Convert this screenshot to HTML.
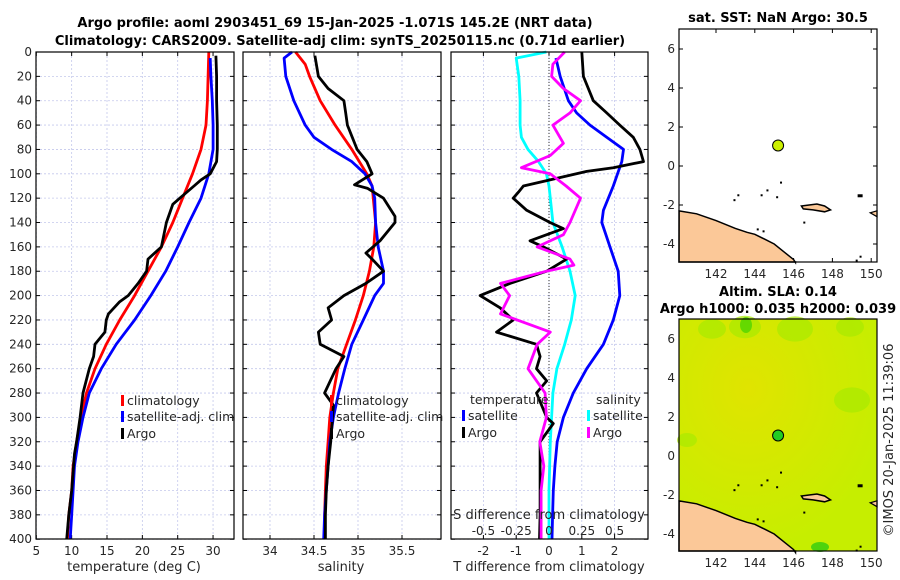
<!DOCTYPE html>
<html><head><meta charset="utf-8"><style>
body{margin:0;background:#fff;}
svg{display:block;font-family:"DejaVu Sans","Liberation Sans",sans-serif;}
.tk{font-size:12px;fill:#262626;}
.tt{font-size:13px;font-weight:bold;fill:#000;}
.lab{font-size:13px;fill:#262626;}
.lg{font-size:12.5px;fill:#262626;}
</style></head><body>
<svg id="fig" width="900" height="580" viewBox="0 0 900 580">
<text class="tt" x="335" y="27" text-anchor="middle">Argo profile: aoml 2903451_69 15-Jan-2025 -1.071S 145.2E (NRT data)</text>
<text class="tt" x="340" y="45" text-anchor="middle">Climatology: CARS2009. Satellite-adj clim: synTS_20250115.nc (0.71d earlier)</text>
<text class="tt" x="778" y="22" text-anchor="middle">sat. SST: NaN Argo: 30.5</text>
<text class="tt" x="778" y="296" text-anchor="middle">Altim. SLA: 0.14</text>
<text class="tt" x="778" y="313" text-anchor="middle">Argo h1000: 0.035 h2000: 0.039</text>
<text x="893" y="440" font-size="13" fill="#262626" text-anchor="middle" transform="rotate(-90 893 440)">©IMOS 20-Jan-2025 11:39:06</text>
</svg>
<script>
// ---- data ----
const depthTick=[0,20,40,60,80,100,120,140,160,180,200,220,240,260,280,300,320,340,360,380,400];
const tempTick=[5,10,15,20,25,30];
const salTick=[34,34.5,35,35.5];
const tdiffTick=[-2,-1,0,1,2];
const sdiffTick=[-0.5,-0.25,0,0.25,0.5];
const sdiffTickLabel=["-0.5","-0.25","0","0.25","0.5"];
const lonTick=[142,144,146,148,150];
const latTick=[-4,-2,0,2,4,6];

const climDepth=[0,20,40,60,80,100,120,140,160,180,200,220,240,260,280,300,320,340,360,380,400];
const climTemp=[29.4,29.3,29.2,29.0,28.3,27.1,25.7,24.3,22.7,20.8,18.9,16.8,14.9,13.3,12.1,11.3,10.7,10.2,10.0,9.6,9.4];
const satDepth=[5,20,40,60,80,100,120,140,160,180,200,220,240,260,280,300,320,340,360,380,400];
const satTemp=[29.6,29.7,29.9,30.0,30.0,29.4,28.3,26.6,25.0,23.3,21.2,18.9,16.3,14.2,12.5,11.6,10.9,10.4,10.2,10.0,9.8];
const argoTDepth=[3,20,40,60,80,90,100,105,110,120,125,140,160,170,180,190,200,205,215,220,230,240,250,260,280,300,320,330,360,380,400];
const argoTemp=[30.4,30.5,30.5,30.6,30.6,30.5,29.6,28.3,27.3,25.3,24.3,23.4,22.7,20.8,20.6,19.4,18.0,16.8,15.2,14.9,14.7,13.3,13.1,12.5,11.6,11.2,10.7,10.4,10.0,9.6,9.3];

const climSDepth=[0,10,20,40,60,80,100,110,140,160,180,200,220,240,260,280,300,320,340,360,380,400];
const climSal=[34.29,34.40,34.45,34.57,34.74,34.93,35.10,35.16,35.20,35.18,35.13,35.06,34.97,34.87,34.77,34.72,34.68,34.66,34.64,34.63,34.62,34.62];
const satSDepth=[0,5,20,40,60,70,80,90,100,110,120,140,160,180,190,200,220,240,260,280,300,320,340,360,380,400];
const satSal=[34.25,34.16,34.18,34.27,34.40,34.50,34.70,34.93,35.08,35.16,35.19,35.20,35.23,35.29,35.29,35.19,35.06,34.93,34.85,34.78,34.72,34.68,34.66,34.64,34.62,34.61];
const argoSDepth=[3,20,30,40,50,60,80,90,100,109,112,120,135,140,155,165,170,180,190,200,210,220,230,240,250,260,280,290,300,320,340,360,380,400];
const argoSal=[34.51,34.55,34.66,34.84,34.86,34.88,34.99,35.10,35.16,34.96,35.11,35.29,35.42,35.42,35.25,35.09,35.16,35.29,35.09,34.84,34.66,34.70,34.55,34.57,34.84,34.75,34.62,34.72,34.71,34.69,34.66,34.64,34.63,34.63];

const dSatSDepth=[0,5,20,40,60,70,80,90,100,110,140,160,180,200,220,240,260,280,300,320,360,400];
const dSatSal=[-0.02,-0.25,-0.23,-0.22,-0.22,-0.21,-0.16,-0.08,-0.02,0.0,0.03,0.10,0.16,0.20,0.17,0.12,0.06,0.03,0.02,0.01,0.0,0.0];
const dSatTDepth=[5,20,40,50,60,70,80,90,110,130,140,160,180,200,220,240,260,280,300,320,340,360,380,400];
const dSatTemp=[0.21,0.34,0.59,0.84,1.25,1.76,2.27,2.22,1.96,1.66,1.61,1.86,2.11,2.16,1.96,1.66,1.15,0.74,0.44,0.25,0.18,0.13,0.11,0.09];
const dArgoTDepth=[0,20,40,50,60,70,80,90,95,98,105,110,115,120,130,140,145,155,160,170,180,190,200,210,220,230,240,250,260,270,280,300,305,320,340,360,380,400];
const dArgoTemp=[1.0,1.05,1.35,1.76,2.16,2.57,2.77,2.88,1.96,1.15,0.03,-0.78,-0.93,-1.09,-0.68,0.03,0.44,-0.58,-0.17,0.54,-0.07,-1.19,-2.10,-1.49,-1.09,-1.60,-0.38,-0.27,-0.38,-0.07,-0.38,-0.07,0.13,-0.27,-0.27,-0.27,-0.27,-0.29];
const dArgoSDepth=[0,10,20,30,40,50,60,75,85,95,100,110,120,140,150,160,170,175,180,190,200,215,230,240,260,280,300,320,340,360,380,400];
const dArgoSal=[0.12,0.03,0.02,0.11,0.24,0.16,0.03,0.11,0.01,-0.21,0.01,0.13,0.24,0.16,0.11,-0.09,0.16,0.19,-0.02,-0.37,-0.30,-0.37,0.01,-0.09,-0.16,-0.03,-0.02,-0.07,-0.04,-0.06,-0.06,-0.06];

const floatLon=[145.2], floatLat=[1.05];
// ---- scales ----
const Y=d=>52+d*1.218;
const TX=t=>36.3+(t-5)*7.07;
const SX=s=>270+(s-34)*88;
const DX=t=>549+t*32.8;
const DSX=s=>549+s*4*32.8;
const LX=l=>716+(l-142)*19.4;
const LY1=a=>49+(6-a)*19.5;
const LY2=a=>339+(6-a)*19.5;

const svg=document.getElementById('fig');
const NS='http://www.w3.org/2000/svg';
function mk(tag,at,parent){const e=document.createElementNS(NS,tag);for(const k in at)e.setAttribute(k,at[k]);(parent||svg).appendChild(e);return e;}

function panel(name,x0,x1,y0,y1,xt,xf,xl,yt,yf,ylab,grid){
  const g=mk('g',{});
  
  
  xt.forEach((v,i)=>{const x=xf(v);
    if(grid)mk('line',{x1:x,x2:x,y1:y0,y2:y1,stroke:'#c4c8ec','stroke-width':0.8,'stroke-dasharray':'2,2'},g);
    mk('line',{x1:x,x2:x,y1:y1,y2:y1-4,stroke:'#000'},g);mk('line',{x1:x,x2:x,y1:y0,y2:y0+4,stroke:'#000'},g);
    const t=mk('text',{x:x,y:y1+16,'text-anchor':'middle',class:'tk'},g);t.textContent=xl?xl[i]:v;
    
    
  });
  yt.forEach(v=>{const y=yf(v);
    if(grid)mk('line',{x1:x0,x2:x1,y1:y,y2:y,stroke:'#c4c8ec','stroke-width':0.8,'stroke-dasharray':'2,2'},g);
    mk('line',{x1:x0,x2:x0+4,y1:y,y2:y,stroke:'#000'},g);mk('line',{x1:x1,x2:x1-4,y1:y,y2:y,stroke:'#000'},g);
    if(ylab){const t=mk('text',{x:x0-4,y:y+4,'text-anchor':'end',class:'tk'},g);t.textContent=v;
    
    }
  });
  return g;
}
function frame(x0,x1,y0,y1){const r=mk('rect',{x:x0,y:y0,width:x1-x0,height:y1-y0,fill:'none',stroke:'#000','stroke-width':1.2});

}
function line(name,xs,ds,xf,col){
  const p=mk('polyline',{points:xs.map((v,i)=>xf(v).toFixed(1)+','+Y(ds[i]).toFixed(1)).join(' '),fill:'none',stroke:col,'stroke-width':2.8,'stroke-linejoin':'round'});
  
  
}
function txt(name,s,x,y,cls,anchor){const t=mk('text',{x:x,y:y,class:cls||'lab','text-anchor':anchor||'start'});t.textContent=s;

return t;}
function legend(name,x,y,col,label){
  const r=mk('rect',{x:x,y:y-10,width:3,height:11,fill:col});
  
  
  txt(name,label,x+6,y,'lg');
}

// Panel 1
panel('temperature-panel',36,234,52,539,tempTick,TX,null,depthTick,Y,true,true);
line('climatology-temp-line',climTemp,climDepth,TX,'#ff0000');
line('satellite-temp-line',satTemp,satDepth,TX,'#0000ff');
line('argo-temp-line',argoTemp,argoTDepth,TX,'#000');
frame(36,234,52,539);
txt('temperature-axis-title','temperature (deg C)',134,571,'lab','middle');
legend('legend-climatology',121,405,'#ff0000','climatology');
legend('legend-satellite-adj',121,421,'#0000ff','satellite-adj. clim');
legend('legend-argo',121,438,'#000','Argo');

// Panel 2
panel('salinity-panel',243,441,52,539,salTick,SX,null,depthTick,Y,false,true);
line('climatology-sal-line',climSal,climSDepth,SX,'#ff0000');
line('satellite-sal-line',satSal,satSDepth,SX,'#0000ff');
line('argo-sal-line',argoSal,argoSDepth,SX,'#000');
frame(243,441,52,539);
txt('salinity-axis-title','salinity',341,571,'lab','middle');
legend('legend-climatology-2',330,405,'#ff0000','climatology');
legend('legend-satellite-adj-2',330,421,'#0000ff','satellite-adj. clim');
legend('legend-argo-2',330,438,'#000','Argo');

// Panel 3
panel('difference-panel',451,648,52,539,tdiffTick,DX,null,depthTick,Y,false,true);
mk('line',{x1:DX(0),x2:DX(0),y1:52,y2:539,stroke:'#333','stroke-width':1,'stroke-dasharray':'1,2'});
line('sat-sal-diff-line',dSatSal,dSatSDepth,DSX,'#00ffff');
line('sat-temp-diff-line',dSatTemp,dSatTDepth,DX,'#0000ff');
line('argo-temp-diff-line',dArgoTemp,dArgoTDepth,DX,'#000');
line('argo-sal-diff-line',dArgoSal,dArgoSDepth,DSX,'#ff00ff');
frame(451,648,52,539);
txt('t-diff-axis-title','T difference from climatology',549,571,'lab','middle');
txt('s-diff-axis-title','S difference from climatology',549,519,'lab','middle');
sdiffTick.forEach((v,i)=>{txt('s-diff-tick-label',sdiffTickLabel[i],DSX(v),535,'tk','middle');});
txt('legend-temperature-header','temperature',470,404,'lg');
txt('legend-salinity-header','salinity',596,404,'lg');
legend('legend-t-satellite',462,420,'#0000ff','satellite');
legend('legend-t-argo',462,437,'#000','Argo');
legend('legend-s-satellite',587,420,'#00ffff','satellite');
legend('legend-s-argo',587,437,'#ff00ff','Argo');

// Maps
const coastLon=[140.1,141,142,143,143.6,144,144.5,145,145.5,146,146.1];
const coastLat=[-2.3,-2.45,-2.8,-3.2,-3.4,-3.5,-3.75,-4.0,-4.4,-4.8,-4.95];
const islandLon=[146.4,146.8,147.2,147.6,147.9,147.6,147.0,146.5];
const islandLat=[-2.05,-2.0,-1.95,-2.05,-2.25,-2.35,-2.25,-2.2];
const specLon=[142.9,143.1,144.3,144.6,145.1,145.3,146.5,144.1,144.4,149.2,149.4];
const specLat=[-1.7,-1.45,-1.45,-1.2,-1.55,-0.8,-2.85,-3.2,-3.3,-4.8,-4.6];
function map(name,top,bottom,LY,bg,dotCol){
  panel(name,679,877,top,bottom,lonTick,LX,null,latTick,LY,true,false);
  if(bg){
    const defs=mk('defs',{});
    const gr=mk('radialGradient',{id:'sl',cx:'0.35',cy:'0.3',r:'0.7'},defs);
    mk('stop',{offset:'0','stop-color':'#e0e400'},gr);mk('stop',{offset:'1','stop-color':'#c6ee00'},gr);
    const bgr=mk('rect',{x:679,y:top,width:198,height:bottom-top,fill:'url(#sl)'});
    
    
    [[712,top+10,14],[745,top+8,16],[795,top+10,18],[850,top+8,14],[687,440,10],[852,400,18]].forEach(c=>mk('ellipse',{cx:c[0],cy:c[1],rx:c[2],ry:c[2]*0.7,fill:'#a8ea00',opacity:0.7}));
    mk('ellipse',{cx:746,cy:top+6,rx:6,ry:8,fill:'#50d400',opacity:0.8});
    mk('ellipse',{cx:820,cy:bottom-4,rx:9,ry:5,fill:'#30cc10',opacity:0.8});
  }
  const pts=coastLon.map((l,i)=>LX(l).toFixed(1)+','+LY(coastLat[i]).toFixed(1));
  const land=mk('polygon',{points:'679,'+bottom+' '+pts.join(' ')+' '+LX(146.1)+','+bottom,fill:'#fbc898',stroke:'#000','stroke-width':1.5});
  
  
  const isl=mk('polygon',{points:islandLon.map((l,i)=>LX(l).toFixed(1)+','+LY(islandLat[i]).toFixed(1)).join(' '),fill:'#fbc898',stroke:'#000','stroke-width':1.5});
  
  
  mk('path',{d:`M${LX(150.3)} ${LY(-2.3)} L${LX(149.95)} ${LY(-2.4)} L${LX(150.3)} ${LY(-2.6)}Z`,fill:'#fbc898',stroke:'#000','stroke-width':1.2});
  mk('rect',{x:LX(149.3),y:LY(-1.45),width:5,height:3,fill:'#000'});
  specLon.forEach((l,i)=>mk('rect',{x:LX(l),y:LY(specLat[i]),width:2,height:2,fill:'#000'}));
  const d=mk('circle',{cx:LX(floatLon[0]),cy:LY(floatLat[0]),r:5.5,fill:dotCol,stroke:'#000','stroke-width':1});
  
  
  frame(679,877,top,bottom);
}
map('sst-map',29,262,LY1,false,'#ccf000');
map('sla-map',319,551,LY2,true,'#22cc22');
</script>
</body></html>
